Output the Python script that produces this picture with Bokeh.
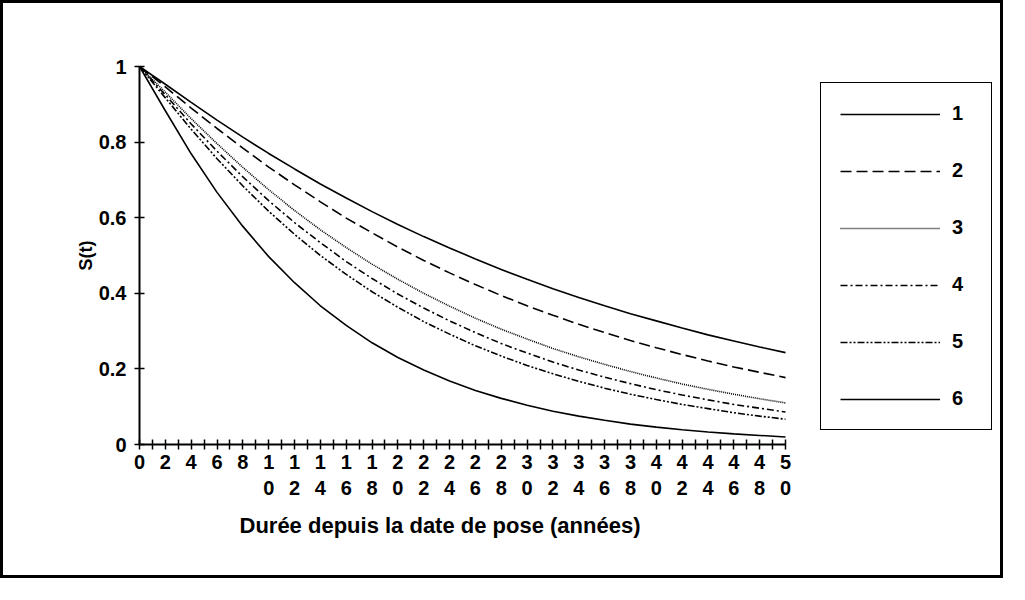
from bokeh.plotting import figure
from bokeh.models import Range1d, FixedTicker, Legend, LegendItem, Title
from bokeh.embed import file_html
from bokeh.resources import INLINE

# ---- data ----
years = [0, 2, 4, 6, 8, 10, 12, 14, 16, 18, 20, 22, 24, 26, 28, 30,
         32, 34, 36, 38, 40, 42, 44, 46, 48, 50]
s1 = [1.000, 0.953, 0.905, 0.858, 0.813, 0.770, 0.729, 0.689, 0.652, 0.616, 0.582, 0.550, 0.520,
      0.491, 0.463, 0.437, 0.412, 0.389, 0.367, 0.346, 0.327, 0.308, 0.290, 0.274, 0.258, 0.243]
s2 = [1.000, 0.946, 0.890, 0.836, 0.784, 0.734, 0.687, 0.642, 0.599, 0.560, 0.522, 0.487, 0.454,
      0.423, 0.394, 0.367, 0.342, 0.318, 0.296, 0.275, 0.256, 0.238, 0.221, 0.205, 0.191, 0.177]
s3 = [1.000, 0.932, 0.862, 0.796, 0.733, 0.674, 0.619, 0.568, 0.521, 0.477, 0.437, 0.400, 0.366,
      0.334, 0.305, 0.279, 0.254, 0.232, 0.212, 0.193, 0.176, 0.160, 0.146, 0.133, 0.121, 0.110]
s4 = [1.000, 0.925, 0.848, 0.776, 0.708, 0.645, 0.587, 0.534, 0.484, 0.439, 0.398, 0.361, 0.327,
      0.296, 0.267, 0.242, 0.218, 0.197, 0.178, 0.161, 0.145, 0.131, 0.118, 0.106, 0.096, 0.086]
s5 = [1.000, 0.917, 0.834, 0.756, 0.684, 0.617, 0.556, 0.500, 0.450, 0.404, 0.363, 0.325, 0.292,
      0.261, 0.234, 0.209, 0.187, 0.167, 0.149, 0.133, 0.119, 0.106, 0.095, 0.084, 0.075, 0.067]
s6 = [1.000, 0.883, 0.769, 0.667, 0.577, 0.497, 0.428, 0.367, 0.315, 0.269, 0.230, 0.197, 0.168,
      0.143, 0.122, 0.104, 0.088, 0.075, 0.064, 0.054, 0.046, 0.039, 0.033, 0.028, 0.024, 0.020]
series_names = ["1", "2", "3", "4", "5", "6"]
x_tick_labels = ["0", "2", "4", "6", "8",
                 "1\n0", "1\n2", "1\n4", "1\n6", "1\n8",
                 "2\n0", "2\n2", "2\n4", "2\n6", "2\n8",
                 "3\n0", "3\n2", "3\n4", "3\n6", "3\n8",
                 "4\n0", "4\n2", "4\n4", "4\n6", "4\n8", "5\n0"]
minor_years = [1, 3, 5, 7, 9, 11, 13, 15, 17, 19, 21, 23, 25, 27, 29,
               31, 33, 35, 37, 39, 41, 43, 45, 47, 49]
y_ticks = [0, 0.2, 0.4, 0.6, 0.8, 1.0]
y_tick_labels = ["0", "0.2", "0.4", "0.6", "0.8", "1"]
x_title = "Durée depuis la date de pose (années)"
y_title = "S(t)"

FONT = "Liberation Sans"

# layout (pixels)
W, H = 1003, 578
LEFT, TOP, BOTTOM, RIGHT = 136, 63, 137, 2
AXIS_PX = 646                      # pixel length of the 0..50 year axis
frame_w = W - LEFT - RIGHT
x_end = 50 * frame_w / AXIS_PX

p = figure(width=W, height=H, output_backend="svg", toolbar_location=None,
           x_range=Range1d(0, x_end), y_range=Range1d(0, 1),
           min_border_left=LEFT, min_border_top=TOP, min_border_bottom=BOTTOM,
           min_border_right=RIGHT)
p.styles = {"border": "3px solid black"}
p.outline_line_color = None
p.xgrid.grid_line_color = None
p.ygrid.grid_line_color = None
p.background_fill_color = "white"
p.border_fill_color = "white"

styles = [
    dict(line_dash="solid"),
    dict(line_dash="11 5"),
    dict(line_dash="1 1"),
    dict(line_dash="7 3 2 3"),
    dict(line_dash="7 2 2 2 2 2"),
    dict(line_dash="solid"),
]
renderers = []
for ys, st in zip([s1, s2, s3, s4, s5, s6], styles):
    r = p.line(years, ys, line_color="black", line_width=1.6, **st)
    renderers.append(r)

# axes
for ax in (p.xaxis[0], p.yaxis[0]):
    ax.axis_line_color = "black"
    ax.axis_line_width = 2
    ax.major_tick_line_color = "black"
    ax.major_tick_line_width = 1.5
    ax.major_tick_in = 5
    ax.major_tick_out = 5
    ax.major_label_text_font = FONT
    ax.major_label_text_font_style = "bold"
    ax.major_label_text_font_size = "20px"
    ax.major_label_text_color = "black"
    ax.axis_label_text_font = FONT
    ax.axis_label_text_font_style = "bold"
    ax.axis_label_text_font_size = "18px"
    ax.axis_label_text_color = "black"

p.xaxis.bounds = (0, 50)
p.xaxis.ticker = FixedTicker(ticks=years, minor_ticks=minor_years)
p.xaxis.major_label_overrides = {t: l for t, l in zip(years, x_tick_labels)}
p.xaxis.minor_tick_line_color = "black"
p.xaxis.minor_tick_line_width = 1.5
p.xaxis.minor_tick_in = 5
p.xaxis.minor_tick_out = 5
p.xaxis.major_label_standoff = 1

# x title, placed under the year axis (not under the whole frame)
p.add_layout(Title(text=x_title, align="left", offset=100, standoff=18,
                   text_font=FONT, text_font_style="bold", text_font_size="22px",
                   text_color="black"), "below")

p.yaxis.ticker = FixedTicker(ticks=y_ticks)
p.yaxis.major_label_overrides = {t: l for t, l in zip(y_ticks, y_tick_labels)}
p.yaxis.minor_tick_line_color = None
p.yaxis.major_label_standoff = 8
p.yaxis.axis_label = y_title
p.yaxis.axis_label_standoff = 0

legend = Legend(
    items=[LegendItem(label=n, renderers=[r]) for n, r in zip(series_names, renderers)],
    location=(681, 14), margin=0, padding=19, spacing=34,
    glyph_width=100, glyph_height=20, label_standoff=12, label_height=20,
    border_line_color="black", border_line_width=1.5, border_line_alpha=1.0,
    background_fill_color="white", background_fill_alpha=1.0,
    label_text_font=FONT, label_text_font_style="bold", label_text_font_size="20px",
    label_text_color="black",
)
p.add_layout(legend, "center")

open("out.html", "w").write(file_html(p, INLINE))
